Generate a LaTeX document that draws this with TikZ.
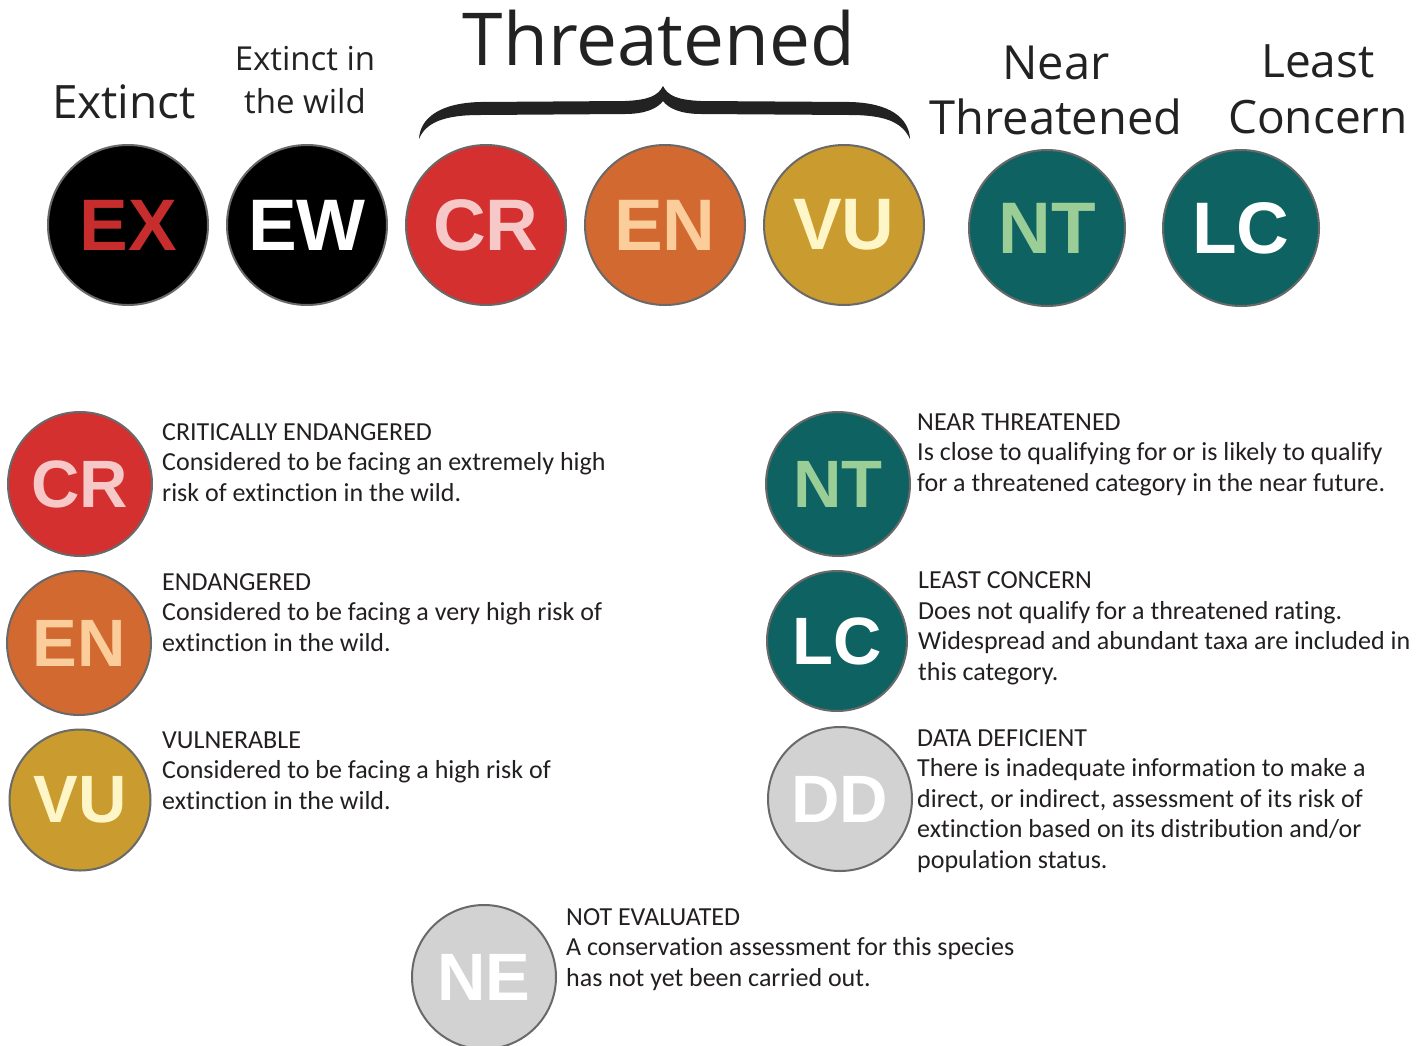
\documentclass[tikz,border=0pt]{standalone}
\usepackage{fontspec}
\setmainfont{Carlito}[Ligatures=NoCommon]
\newfontfamily\headfont{Open Sans}
\newfontfamily\badgefont{Liberation Sans}
\definecolor{rimgray}{RGB}{105,105,105}
\definecolor{exred}{RGB}{200,45,45}
\definecolor{crfill}{RGB}{211,48,47}
\definecolor{crtext}{RGB}{246,200,200}
\definecolor{enfill}{RGB}{210,105,48}
\definecolor{entext}{RGB}{250,205,155}
\definecolor{vufill}{RGB}{202,155,46}
\definecolor{vutext}{RGB}{255,246,200}
\definecolor{ntfill}{RGB}{14,99,98}
\definecolor{nttext}{RGB}{155,205,150}
\definecolor{ddfill}{RGB}{210,210,210}
\definecolor{headcol}{RGB}{34,34,34}
\definecolor{desccol}{RGB}{35,31,32}
\tikzset{
  badge/.style={circle, draw=rimgray, line width=2pt, inner sep=0pt, minimum size=#1},
  bigbadge/.style={badge=160, font=\badgefont\bfseries\fontsize{73}{73}\selectfont},
  smallbadge/.style={badge=144, font=\badgefont\bfseries\fontsize{67}{67}\selectfont},
  heading/.style={inner sep=0pt, align=center, text=headcol, anchor=base},
  desc/.style={inner sep=0pt, align=left, text=desccol, anchor=base west, font=\fontsize{26}{30.5}\selectfont}
}
\begin{document}
\begin{tikzpicture}[x=1pt,y=-1pt]
\useasboundingbox (0,0) rectangle (1425,1045);
% headings (anchor base = baseline of the last line)
\node[heading, font=\headfont\fontsize{46}{55}\selectfont] (hEX) at (124,118) {Extinct};
\node[heading, font=\headfont\fontsize{33}{43}\selectfont] (hEW) at (305,113) {Extinct in\\the wild};
\node[heading, font=\headfont\fontsize{73}{80}\selectfont] (hTH) at (659,65) {Threatened};
\node[heading, font=\headfont\fontsize{47}{55}\selectfont] (hNT) at (1056,134) {Near\\Threatened};
\node[heading, font=\headfont\fontsize{46}{56}\selectfont] (hLC) at (1318,133) {Least\\Concern};
% brace
\fill[headcol] (419,139) .. controls (420,118) and (440,103) .. (480,102) -- (625,101)
  .. controls (648,100) and (658,96) .. (663,86)
  .. controls (668,96) and (678,100) .. (701,101) -- (850,102)
  .. controls (890,103) and (909,118) .. (910,139)
  .. controls (902,122) and (885,115) .. (850,115) -- (701,114)
  .. controls (680,114) and (668,108) .. (663,101)
  .. controls (658,108) and (646,114) .. (625,114) -- (480,115)
  .. controls (445,115) and (426,122) .. (419,139) -- cycle;
% top row
\node[bigbadge, fill=black, text=exred] (tEX) at (128,225) {EX};
\node[bigbadge, fill=black, text=white] (tEW) at (307,225) {EW};
\node[bigbadge, fill=crfill, text=crtext] (tCR) at (486,225) {CR};
\node[bigbadge, fill=enfill, text=entext] (tEN) at (665,225) {EN};
\node[bigbadge, fill=vufill, text=vutext] (tVU) at (844,225) {VU};
\node[bigbadge, badge=156, fill=ntfill, text=nttext] (tNT) at (1047,228) {NT};
\node[bigbadge, badge=156, fill=ntfill, text=white] (tLC) at (1241,228) {LC};
% legend badges
\node[smallbadge, fill=crfill, text=crtext] (bCR) at (80,484) {CR};
\node[smallbadge, fill=enfill, text=entext] (bEN) at (79,643) {EN};
\node[smallbadge, badge=141, fill=vufill, text=vutext] (bVU) at (80,800) {VU};
\node[smallbadge, fill=ntfill, text=nttext] (bNT) at (838,484) {NT};
\node[smallbadge, badge=140, fill=ntfill, text=white] (bLC) at (837,641) {LC};
\node[smallbadge, fill=ddfill, text=white] (bDD) at (840,799) {DD};
\node[smallbadge, fill=ddfill, text=white] (bNE) at (484,977) {NE};
% descriptions
\node[desc] (dCR) at (162,501) {CRITICALLY ENDANGERED\\Considered to be facing an extremely high\\risk of extinction in the wild.};
\node[desc] (dEN) at (162,651) {ENDANGERED\\Considered to be facing a very high risk of\\extinction in the wild.};
\node[desc] (dVU) at (162,809) {VULNERABLE\\Considered to be facing a high risk of\\extinction in the wild.};
\node[desc] (dNT) at (917,491) {NEAR THREATENED\\Is close to qualifying for or is likely to qualify\\for a threatened category in the near future.};
\node[desc] (dLC) at (918,680) {LEAST CONCERN\\Does not qualify for a threatened rating.\\Widespread and abundant taxa are included in\\this category.};
\node[desc] (dDD) at (917,868) {DATA DEFICIENT\\There is inadequate information to make a\\direct, or indirect, assessment of its risk of\\extinction based on its distribution and/or\\population status.};
\node[desc] (dNE) at (566,986) {NOT EVALUATED\\A conservation assessment for this species\\has not yet been carried out.};
\end{tikzpicture}
\end{document}
